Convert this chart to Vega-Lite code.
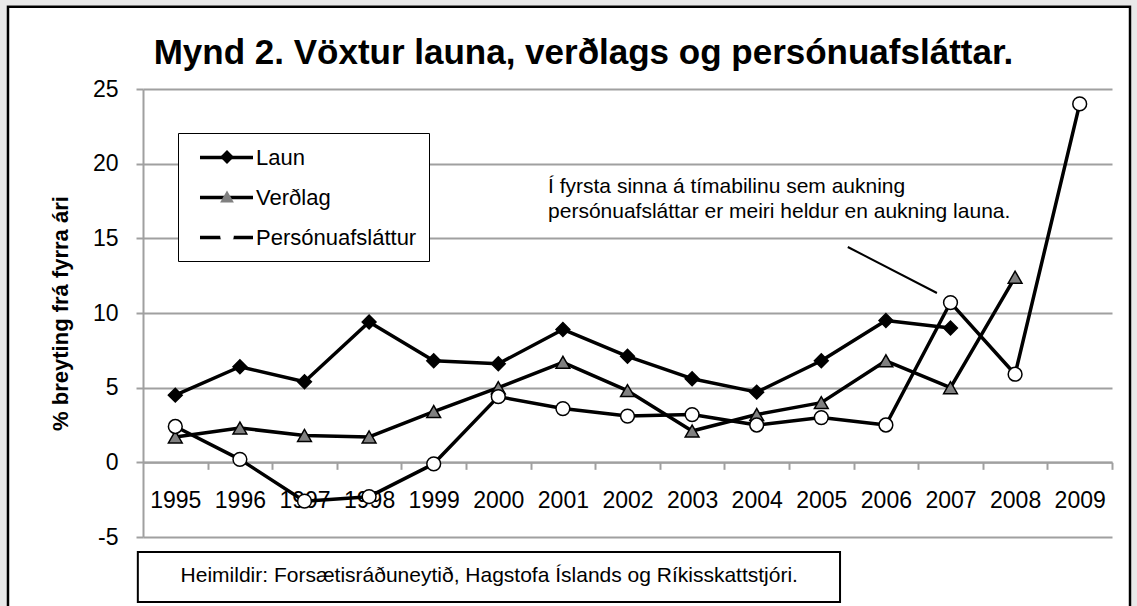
{
  "$schema": "https://vega.github.io/schema/vega-lite/v6.json",
  "width": 969,
  "height": 448,
  "autosize": {"type": "none"},
  "padding": {"left": 143, "top": 89, "right": 25, "bottom": 69},
  "background": "white",
  "title": {
    "text": "Mynd 2. Vöxtur launa, verðlags og persónuafsláttar.",
    "fontSize": 35, "fontWeight": "bold", "font": "Liberation Sans", "color": "black",
    "anchor": "middle", "frame": "group", "dx": -44, "dy": 119.5, "offset": 15, "baseline": "alphabetic"
  },
  "data": {"values": [
    {"year": 1995, "series": "Laun", "value": 4.5},
    {"year": 1996, "series": "Laun", "value": 6.4},
    {"year": 1997, "series": "Laun", "value": 5.4},
    {"year": 1998, "series": "Laun", "value": 9.4},
    {"year": 1999, "series": "Laun", "value": 6.8},
    {"year": 2000, "series": "Laun", "value": 6.6},
    {"year": 2001, "series": "Laun", "value": 8.9},
    {"year": 2002, "series": "Laun", "value": 7.1},
    {"year": 2003, "series": "Laun", "value": 5.6},
    {"year": 2004, "series": "Laun", "value": 4.7},
    {"year": 2005, "series": "Laun", "value": 6.8},
    {"year": 2006, "series": "Laun", "value": 9.5},
    {"year": 2007, "series": "Laun", "value": 9.0},
    {"year": 1995, "series": "Verðlag", "value": 1.7},
    {"year": 1996, "series": "Verðlag", "value": 2.3},
    {"year": 1997, "series": "Verðlag", "value": 1.8},
    {"year": 1998, "series": "Verðlag", "value": 1.7},
    {"year": 1999, "series": "Verðlag", "value": 3.4},
    {"year": 2000, "series": "Verðlag", "value": 5.0},
    {"year": 2001, "series": "Verðlag", "value": 6.7},
    {"year": 2002, "series": "Verðlag", "value": 4.8},
    {"year": 2003, "series": "Verðlag", "value": 2.1},
    {"year": 2004, "series": "Verðlag", "value": 3.2},
    {"year": 2005, "series": "Verðlag", "value": 4.0},
    {"year": 2006, "series": "Verðlag", "value": 6.8},
    {"year": 2007, "series": "Verðlag", "value": 5.0},
    {"year": 2008, "series": "Verðlag", "value": 12.4},
    {"year": 1995, "series": "Persónuafsláttur", "value": 2.4},
    {"year": 1996, "series": "Persónuafsláttur", "value": 0.2},
    {"year": 1997, "series": "Persónuafsláttur", "value": -2.6},
    {"year": 1998, "series": "Persónuafsláttur", "value": -2.3},
    {"year": 1999, "series": "Persónuafsláttur", "value": -0.1},
    {"year": 2000, "series": "Persónuafsláttur", "value": 4.4},
    {"year": 2001, "series": "Persónuafsláttur", "value": 3.6},
    {"year": 2002, "series": "Persónuafsláttur", "value": 3.1},
    {"year": 2003, "series": "Persónuafsláttur", "value": 3.2},
    {"year": 2004, "series": "Persónuafsláttur", "value": 2.5},
    {"year": 2005, "series": "Persónuafsláttur", "value": 3.0},
    {"year": 2006, "series": "Persónuafsláttur", "value": 2.5},
    {"year": 2007, "series": "Persónuafsláttur", "value": 10.7},
    {"year": 2008, "series": "Persónuafsláttur", "value": 5.9},
    {"year": 2009, "series": "Persónuafsláttur", "value": 24.0}
  ]},
  "layer": [
    {
      "data": {"values": [{}]},
      "mark": {"type": "rect", "fillOpacity": 0, "stroke": "#e9e9e9", "strokeWidth": 11},
      "encoding": {
        "x": {"datum": 1992.31}, "x2": {"datum": 2009.887},
        "y": {"datum": 30.96}, "y2": {"datum": -11.5}
      }
    },
    {
      "data": {"values": [{}]},
      "mark": {"type": "rect", "fillOpacity": 0, "stroke": "black", "strokeWidth": 2.5},
      "encoding": {
        "x": {"datum": 1992.41}, "x2": {"datum": 2009.779},
        "y": {"datum": 30.511}, "y2": {"datum": -10.56}
      }
    },
    {
      "mark": {"type": "line", "strokeWidth": 3.5, "strokeJoin": "round", "strokeCap": "round"},
      "encoding": {
        "x": {
          "field": "year", "type": "quantitative",
          "scale": {"domain": [1994.5, 2009.5], "nice": false, "zero": false},
          "axis": {
            "title": null, "orient": "bottom", "offset": -74.67,
            "values": [1995.5, 1996.5, 1997.5, 1998.5, 1999.5, 2000.5, 2001.5, 2002.5, 2003.5, 2004.5, 2005.5, 2006.5, 2007.5, 2008.5, 2009.5],
            "labelExpr": "floor(datum.value)", "labelOffset": -32.3,
            "labelFlush": false, "labelOverlap": false, "grid": false,
            "tickSize": 7, "tickWidth": 2, "tickColor": "#a0a0a0",
            "domainColor": "#a0a0a0", "domainWidth": 2,
            "labelFontSize": 23, "labelColor": "black", "labelPadding": 20, "labelFont": "Liberation Sans"
          }
        },
        "y": {
          "field": "value", "type": "quantitative",
          "scale": {"domain": [-5, 25], "nice": false, "zero": false},
          "axis": {
            "title": "% breyting frá fyrra ári",
            "values": [-5, 0, 5, 10, 15, 20, 25],
            "labelExpr": "datum.value",
            "grid": true, "gridColor": "#a0a0a0", "gridWidth": 2,
            "tickSize": 7, "tickWidth": 2, "tickColor": "#a0a0a0",
            "domainColor": "#a0a0a0", "domainWidth": 2,
            "labelFontSize": 23, "labelColor": "black", "labelPadding": 18, "labelFlush": false, "labelFont": "Liberation Sans",
            "titleFontSize": 22, "titleFontWeight": "bold", "titleColor": "black", "titleFont": "Liberation Sans",
            "titleX": -83, "titleY": 224, "titleAngle": 270, "titleAlign": "center", "titleBaseline": "middle"
          }
        },
        "stroke": {
          "field": "series", "type": "nominal", "sort": ["Laun", "Verðlag", "Persónuafsláttur"],
          "scale": {"range": ["black", "black", "black"]},
          "legend": {
            "orient": "none", "legendX": 35, "legendY": 44, "title": null,
            "symbolType": "M-2.524,0H2.524", "symbolSize": 441, "symbolStrokeWidth": 3.5, "symbolStrokeColor": "black",
            "symbolOffset": 24,
            "labelFontSize": 22, "labelFont": "Liberation Sans", "labelColor": "black", "labelOffset": 17, "labelLimit": 400,
            "rowPadding": 16, "padding": 12, "strokeColor": "black", "fillColor": "white",
            "encode": {"legend": {"strokeWidth": {"value": 2}}}
          }
        }
      }
    },
    {
      "mark": {"type": "point", "filled": true, "stroke": "black", "strokeWidth": 1.5, "size": 190, "opacity": 1},
      "encoding": {
        "x": {"field": "year", "type": "quantitative"},
        "y": {"field": "value", "type": "quantitative"},
        "shape": {
          "field": "series", "type": "nominal",
          "scale": {"domain": ["Laun", "Verðlag", "Persónuafsláttur"], "range": ["diamond", "triangle-up", "circle"]},
          "legend": {
            "orient": "none", "legendX": 73, "legendY": 57, "title": null,
            "symbolSize": 190, "symbolStrokeColor": "black", "symbolStrokeWidth": 1.5,
            "labelFontSize": 22, "labelOpacity": 0, "rowPadding": 17.5, "padding": 0,
            "encode": {"symbols": {"stroke": {"value": "black"}, "strokeWidth": {"value": 1.5}, "strokeOpacity": {"value": 1}, "opacity": {"value": 1}}}
          }
        },
        "fill": {
          "field": "series", "type": "nominal",
          "scale": {"domain": ["Laun", "Verðlag", "Persónuafsláttur"], "range": ["black", "#808080", "white"]},
          "legend": {
            "orient": "none", "legendX": 73, "legendY": 57, "title": null,
            "symbolSize": 190, "symbolStrokeColor": "black", "symbolStrokeWidth": 1.5,
            "labelFontSize": 22, "labelOpacity": 0, "rowPadding": 17.5, "padding": 0,
            "encode": {"symbols": {"stroke": {"value": "black"}, "strokeWidth": {"value": 1.5}, "strokeOpacity": {"value": 1}, "opacity": {"value": 1}}}
          }
        }
      }
    },
    {
      "data": {"values": [{}]},
      "mark": {"type": "rule", "stroke": "black", "strokeWidth": 2},
      "encoding": {
        "x": {"datum": 2005.41}, "x2": {"datum": 2006.79},
        "y": {"datum": 14.42}, "y2": {"datum": 11.34}
      }
    },
    {
      "data": {"values": [{}]},
      "mark": {
        "type": "text",
        "text": ["Í fyrsta sinna á tímabilinu sem aukning", "persónuafsláttar er meiri heldur en aukning launa."],
        "align": "left", "baseline": "alphabetic", "fontSize": 21, "lineHeight": 25,
        "font": "Liberation Sans", "color": "black"
      },
      "encoding": {"x": {"datum": 2000.77}, "y": {"datum": 18.03}}
    },
    {
      "data": {"values": [{}]},
      "mark": {"type": "rect", "fill": "white", "stroke": "black", "strokeWidth": 2},
      "encoding": {
        "x": {"datum": 1994.42}, "x2": {"datum": 2005.29},
        "y": {"datum": -6.005}, "y2": {"datum": -9.353}
      }
    },
    {
      "data": {"values": [{}]},
      "mark": {
        "type": "text", "text": "Heimildir: Forsætisráðuneytið, Hagstofa Íslands og Ríkisskattstjóri.",
        "align": "center", "baseline": "alphabetic", "fontSize": 21, "font": "Liberation Sans", "color": "black"
      },
      "encoding": {"x": {"datum": 1999.86}, "y": {"datum": -8.03}}
    }
  ],
  "config": {
    "font": "Liberation Sans",
    "view": {"stroke": null},
    "legend": {"symbolStrokeColor": "black"}
  }
}
